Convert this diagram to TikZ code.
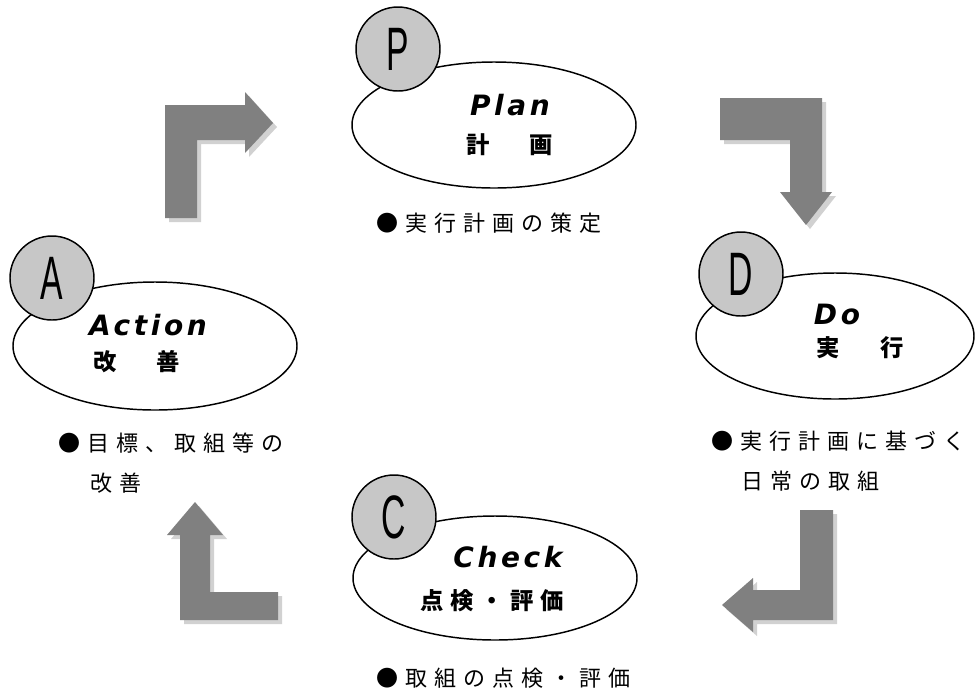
\documentclass[tikz,border=0pt]{standalone}
\usepackage{fontspec}
\usepackage{graphicx}
\usetikzlibrary{shapes.geometric,shadows}
\newfontfamily\jpsp{Noto Sans CJK JP}[LetterSpace=32]
\newfontfamily\jplab{Noto Sans CJK JP}[LetterSpace=28]
\newfontfamily\latlab{DejaVu Sans}[LetterSpace=13]
\newfontfamily\circfont{Liberation Sans}
\begin{document}
\begin{tikzpicture}[x=0.75pt,y=-0.75pt,
  oval/.style={draw=black, line width=1.1pt, ellipse, inner sep=0pt, fill=white},
  badge/.style={draw=black, line width=1.1pt, circle, fill=black!22, minimum size=63pt, inner sep=0pt,
    font=\circfont\fontsize{46}{46}\selectfont},
  lab/.style={inner sep=0pt, font=\latlab\bfseries\itshape\fontsize{21}{23}\selectfont},
  jlab/.style={inner sep=0pt, font=\jplab\bfseries\fontsize{17.5}{19}\selectfont},
  bul/.style={inner sep=0pt, anchor=west, font=\jpsp\fontsize{16.5}{18}\selectfont},
  turn/.style={fill=black!50, drop shadow={shadow xshift=3pt, shadow yshift=-3pt, fill=black!18, opacity=1}}
]
\useasboundingbox (0,0) rectangle (975,694);
% turning arrows
\fill[turn] (165,218) -- (165,105) -- (245,105) -- (245,92) -- (273,123) -- (245,153) -- (245,140) -- (197,140) -- (197,218) -- cycle;
\fill[turn] (720,98) -- (822,98) -- (822,192) -- (832,192) -- (806,225) -- (780,192) -- (790,192) -- (790,140) -- (720,140) -- cycle;
\fill[turn] (800,510) -- (833,510) -- (833,620) -- (753,620) -- (753,632) -- (722,605) -- (753,578) -- (753,590) -- (800,590) -- cycle;
\fill[turn] (180,620) -- (180,535) -- (167,535) -- (195,502) -- (223,535) -- (210,535) -- (210,592) -- (278,592) -- (278,620) -- cycle;
% Plan
\node[oval, minimum width=213pt, minimum height=94.5pt] (planov) at (494,125) {};
\node[badge] (pb) at (398,49) {\scalebox{0.55}[1]{P}};
\node[lab] (plan) at (510,105) {Plan};
\node[jlab] (plank) at (510,145) {計\hspace{30pt}画};
% Action
\node[oval, minimum width=213pt, minimum height=96pt] (actov) at (155,346) {};
\node[badge] (ab) at (52,278) {\scalebox{0.55}[1]{A}};
\node[lab] (act) at (148,325) {Action};
\node[jlab] (actk) at (137,362) {改\hspace{30pt}善};
% Do
\node[oval, minimum width=208.5pt, minimum height=94.5pt] (doov) at (835,336) {};
\node[badge] (db) at (741,274) {\scalebox{0.55}[1]{D}};
\node[lab] (do) at (837,314) {Do};
\node[jlab] (dok) at (860,348) {実\hspace{30pt}行};
% Check
\node[oval, minimum width=213pt, minimum height=93pt] (chkov) at (495,578) {};
\node[badge] (cb) at (394,517) {\scalebox{0.55}[1]{C}};
\node[lab] (chk) at (508,557) {Check};
\node[jlab] (chkk) at (492,601) {点検・評価};
% bullet texts
\node[bul] (pbul) at (376,223) {●実行計画の策定};
\node[bul] (cbul) at (376,678) {●取組の点検・評価};
\node[bul] (abul1) at (58,443) {●目標、取組等の};
\node[bul] (abul2) at (90,483) {改善};
\node[bul] (dbul1) at (711,441) {●実行計画に基づく};
\node[bul] (dbul2) at (741,481) {日常の取組};
\end{tikzpicture}
\end{document}
